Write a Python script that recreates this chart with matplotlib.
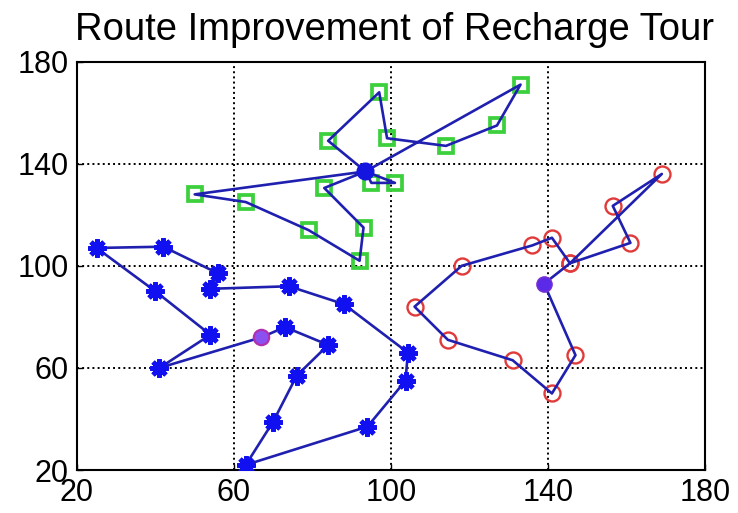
import matplotlib.pyplot as plt
import numpy as np

plt.rcParams['font.family'] = ['Liberation Sans', 'DejaVu Sans']

# tour 1 (green squares), depot listed wherever the tour returns to it
depot_g = (93.5, 137)
route_g_x = [93.5, 133, 127, 114, 99, 97, 84, 93.5, 95, 101, 93.5, 83, 93, 92, 79, 63, 50, 93.5]
route_g_y = [137, 171, 155, 147, 150, 168, 149, 137, 132.5, 132.5, 137, 130.5, 115, 102, 114, 125, 128, 137]

# tour 2 (blue asterisks)
depot_b = (67, 72)
route_b_x = [67, 73, 84, 76, 70, 63, 94, 103.7, 104.3, 88, 74, 54, 56, 42, 25, 40, 54, 41, 67]
route_b_y = [72, 76, 69, 57, 39, 22, 37, 55, 66, 85, 92, 91, 97, 107.5, 107, 90, 73, 60, 72]

# tour 3 (red circles)
depot_r = (139, 93)
route_r_x = [139, 145.6, 169, 156.5, 161, 145.6, 141, 136, 118, 106, 114.5, 131, 141, 147, 139]
route_r_y = [93, 101, 136, 123.5, 109, 101, 111, 108, 100, 84, 71, 63, 50, 65, 93]

LINE = '#2020b0'


def stops(xs, ys, depot):
    pts = [(x, y) for x, y in zip(xs, ys) if (x, y) != depot]
    return np.array(pts).T


fig = plt.figure(figsize=(7.38, 5.13), dpi=100)
ax = fig.add_axes([0.1043, 0.0838, 0.8510, 0.7960])

# route lines
for xs, ys in [(route_g_x, route_g_y), (route_b_x, route_b_y), (route_r_x, route_r_y)]:
    ax.plot(xs, ys, '-', color=LINE, lw=1.9, zorder=3)

gx, gy = stops(route_g_x, route_g_y, depot_g)
ax.plot(gx, gy, 's', ms=9.5, mfc='none', mec='#3cd03c', mew=2.7, zorder=2)

bx, by = stops(route_b_x, route_b_y, depot_b)
ax.plot(bx, by, ls='none', marker=(8, 2, 0), ms=13, mec='#1010f0', mew=3.4, zorder=4)

rx, ry = stops(route_r_x, route_r_y, depot_r)
ax.plot(rx, ry, 'o', ms=11.5, mfc='none', mec='#e03a3a', mew=1.7, zorder=2)

# depots
ax.plot(*depot_g, 'o', ms=12, mfc='#1515e0', mec='#1515e0', zorder=5)
ax.plot(*depot_r, 'o', ms=11, mfc='#5a2ae8', mec='#7a30d0', zorder=5)
ax.plot(*depot_b, 'o', ms=11, mfc='#8a50f0', mec='#b030b0', mew=1.6, zorder=5)

ax.set_xlim(20, 180)
ax.set_ylim(20, 180)
ax.set_xticks([20, 60, 100, 140, 180])
ax.set_yticks([20, 60, 100, 140, 180])
ax.tick_params(direction='in', length=4, width=1, labelsize=22, pad=6)
ax.grid(True, color='black', linestyle=':', linewidth=1.4)
for s in ax.spines.values():
    s.set_linewidth(1.5)

fig.suptitle('Route Improvement of Recharge Tour', fontsize=27.5, x=0.535, y=0.976)

fig.savefig('out.png', dpi=100)
